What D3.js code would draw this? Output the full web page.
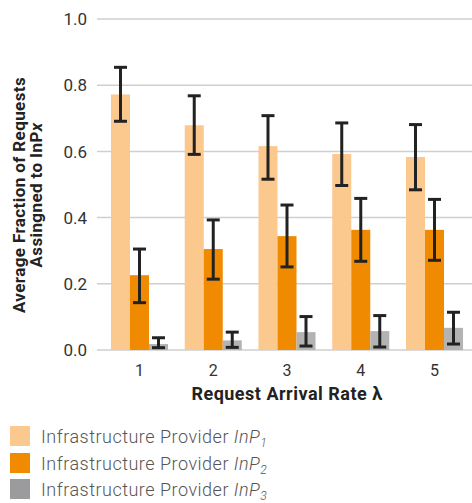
<!DOCTYPE html>
<html><head><meta charset="utf-8">
<script src="https://cdn.jsdelivr.net/npm/d3@7"></script>
<style>body{margin:0;background:#fff;} text{font-family:Roboto, "DejaVu Sans", sans-serif;}</style>
</head><body>
<svg id="c" width="472" height="503"></svg>
<script>
const categories = ["1","2","3","4","5"];
const seriesNames = ["InP1","InP2","InP3"];
const inp1 = [0.772, 0.679, 0.616, 0.592, 0.583];
const inp2 = [0.226, 0.305, 0.344, 0.363, 0.363];
const inp3 = [0.018, 0.029, 0.054, 0.057, 0.067];
const inp1Low = [0.691, 0.591, 0.516, 0.497, 0.484];
const inp1High = [0.854, 0.768, 0.708, 0.686, 0.681];
const inp2Low = [0.143, 0.214, 0.251, 0.268, 0.271];
const inp2High = [0.305, 0.393, 0.438, 0.458, 0.455];
const inp3Low = [0.007, 0.008, 0.012, 0.009, 0.018];
const inp3High = [0.037, 0.054, 0.101, 0.104, 0.114];
const yTicks = [0.0, 0.2, 0.4, 0.6, 0.8, 1.0];
const colors = ["#fbc88e", "#f08a00", "#b3b3b3"];
const legendColors = ["#fbc88e", "#f08a00", "#9b9b9d"];

const values = [inp1, inp2, inp3];
const lows = [inp1Low, inp2Low, inp3Low];
const highs = [inp1High, inp2High, inp3High];

const svg = d3.select("#c");
const y = d3.scaleLinear().domain([0, 1]).range([350, 19]);
const x = d3.scaleBand().domain(categories).range([102.6, 471.4]).paddingInner(0.227).paddingOuter(0.1135);
const xs = d3.scaleBand().domain(seriesNames).range([0, x.bandwidth()]);

// gridlines
svg.append("g").selectAll("line").data(yTicks).join("line")
  .attr("x1", 97).attr("x2", 472)
  .attr("y1", d => y(d)).attr("y2", d => y(d))
  .attr("stroke", "#cfcfcf").attr("stroke-width", 1.5);

// y tick labels
svg.append("g").selectAll("text").data(yTicks).join("text")
  .attr("x", 87).attr("y", d => y(d)).attr("dy", "0.36em")
  .attr("text-anchor", "end").attr("font-size", 17).attr("fill", "#333")
  .text(d => d.toFixed(1));

// bars
seriesNames.forEach((s, si) => {
  const g = svg.append("g");
  g.selectAll("rect").data(categories).join("rect")
    .attr("x", (c) => x(c) + xs(s))
    .attr("width", xs.bandwidth())
    .attr("y", (c, i) => y(values[si][i]))
    .attr("height", (c, i) => y(0) - y(values[si][i]))
    .attr("fill", colors[si]);
});
// error bars
seriesNames.forEach((s, si) => {
  const g = svg.append("g").attr("stroke", "#222").attr("stroke-width", 3).attr("fill", "none");
  categories.forEach((c, i) => {
    const cx = x(c) + xs(s) + xs.bandwidth() / 2;
    const capW = 6.5;
    g.append("line").attr("x1", cx).attr("x2", cx).attr("y1", y(highs[si][i])).attr("y2", y(lows[si][i]));
    g.append("line").attr("x1", cx - capW).attr("x2", cx + capW).attr("y1", y(highs[si][i])).attr("y2", y(highs[si][i]));
    g.append("line").attr("x1", cx - capW).attr("x2", cx + capW).attr("y1", y(lows[si][i])).attr("y2", y(lows[si][i]));
  });
});

// x tick labels
svg.append("g").selectAll("text").data(categories).join("text")
  .attr("x", c => x(c) + x.bandwidth() / 2).attr("y", 376)
  .attr("text-anchor", "middle").attr("font-size", 16).attr("fill", "#333")
  .text(c => c);

// x title
svg.append("text").attr("x", 287).attr("y", 400).attr("text-anchor", "middle")
  .attr("font-size", 18).attr("font-weight", "bold").attr("fill", "#222")
  .attr("letter-spacing", 0.5)
  .text("Request Arrival Rate λ");

// y title
const yt = svg.append("text").attr("transform", "translate(0,195) rotate(-90)")
  .attr("text-anchor", "middle").attr("font-size", 17).attr("font-weight", "bold").attr("fill", "#222")
  .attr("letter-spacing", 0.4);
yt.append("tspan").attr("x", 0).attr("y", 25).text("Average Fraction of Requests");
const t2 = yt.append("tspan").attr("x", 0).attr("y", 42);
t2.append("tspan").text("Assingned to InP");
t2.append("tspan").attr("font-style", "italic").text("x");

// legend
const ly = [436, 463, 489];
seriesNames.forEach((s, si) => {
  svg.append("rect").attr("x", 10).attr("y", ly[si] - 10).attr("width", 20).attr("height", 20).attr("fill", legendColors[si]);
  const t = svg.append("text").attr("x", 41).attr("y", ly[si] + 6.5).attr("font-size", 18).attr("fill", "#555")
    .attr("font-weight", 300).attr("letter-spacing", 0.5);
  t.append("tspan").text("Infrastructure Provider ");
  t.append("tspan").attr("font-style", "italic").text("InP");
  t.append("tspan").attr("font-style", "italic").attr("font-size", 12).attr("dy", 4).text(String(si + 1));
});
</script>
</body></html>
